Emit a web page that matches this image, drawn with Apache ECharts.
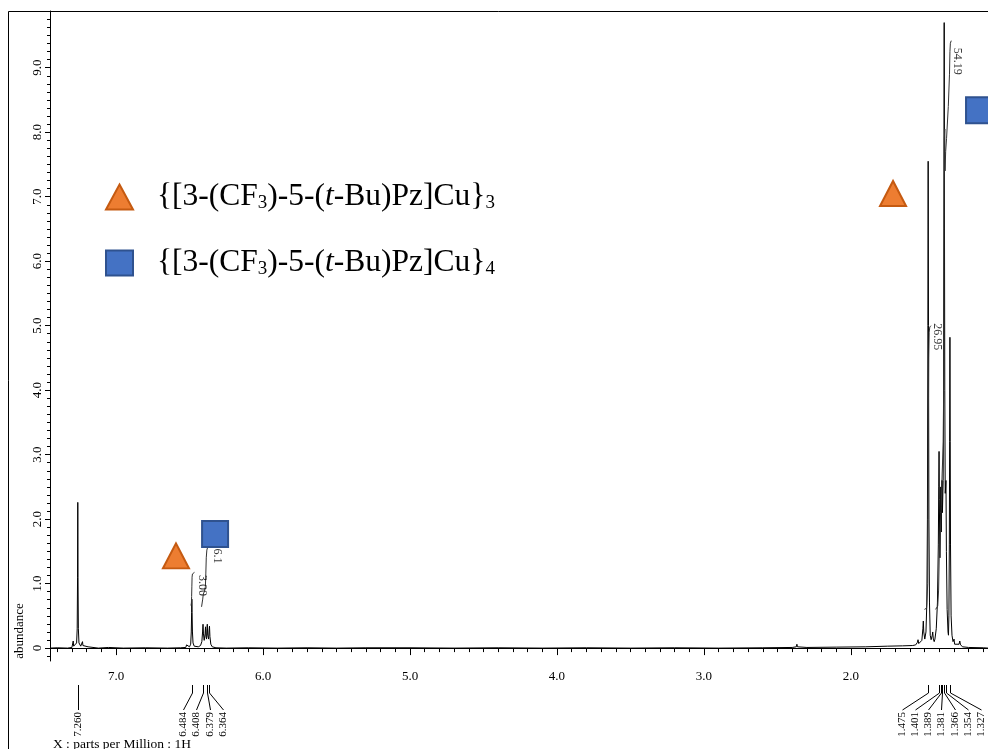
<!DOCTYPE html>
<html>
<head>
<meta charset="utf-8">
<script src="https://cdn.jsdelivr.net/npm/echarts@6/dist/echarts.min.js"></script>
<style>
  html, body { margin: 0; padding: 0; background: #fff; }
  #chart { width: 988px; height: 749px; }
</style>
</head>
<body>
<div id="chart"></div>
<script>
// 1H NMR spectrum, CDCl3: chemical shift (ppm) vs abundance

// ---- axis ticks ----
const xMajorTicks = [2, 3, 4, 5, 6, 7];
const yMajorTicks = [0, 1, 2, 3, 4, 5, 6, 7, 8, 9];

// ---- spectrum trace, [ppm, abundance] ----
const traceCHCl3 = [
  [7.449, 0.00], [7.400, 0.005], [7.330, 0.00], [7.300, 0.01], [7.294, 0.03],
  [7.291, 0.11], [7.288, 0.03], [7.276, 0.03], [7.268, 0.08], [7.264, 0.30],
  [7.2615, 1.10], [7.260, 2.26], [7.2585, 1.10], [7.256, 0.30], [7.252, 0.08],
  [7.240, 0.03], [7.231, 0.04], [7.228, 0.10], [7.225, 0.04], [7.212, 0.01],
  [7.190, 0.02], [7.186, 0.03], [7.180, 0.01], [7.120, 0.00], [7.050, 0.01],
  [7.048, 0.025], [7.045, 0.005], [6.950, 0.00], [6.800, 0.005], [6.650, 0.00]
];
const tracePyrazoleCH = [
  [6.560, 0.005], [6.525, 0.01], [6.520, 0.05], [6.516, 0.02], [6.500, 0.02],
  [6.492, 0.06], [6.488, 0.25], [6.4855, 0.55], [6.484, 0.76], [6.4825, 0.55],
  [6.480, 0.25], [6.476, 0.08], [6.468, 0.03], [6.440, 0.02], [6.425, 0.04],
  [6.416, 0.10], [6.411, 0.25], [6.408, 0.37], [6.405, 0.22], [6.400, 0.12],
  [6.394, 0.22], [6.391, 0.33], [6.388, 0.18], [6.384, 0.14], [6.381, 0.30],
  [6.379, 0.37], [6.376, 0.20], [6.370, 0.14], [6.366, 0.30], [6.364, 0.34],
  [6.361, 0.18], [6.355, 0.06], [6.345, 0.02], [6.320, 0.005], [6.250, 0.00]
];
const traceBaseline = [
  [6.100, 0.005], [5.900, 0.00], [5.700, 0.005], [5.500, 0.00], [5.300, 0.005],
  [5.298, 0.02], [5.295, 0.00], [5.000, 0.005], [4.700, 0.00], [4.400, 0.005],
  [4.100, 0.00], [3.800, 0.005], [3.500, 0.00], [3.200, 0.005], [2.900, 0.00],
  [2.600, 0.005], [2.400, 0.01], [2.372, 0.02], [2.368, 0.06], [2.364, 0.02],
  [2.300, 0.01], [2.100, 0.015], [1.900, 0.02], [1.750, 0.03], [1.650, 0.035]
];
const traceTBu = [
  [1.580, 0.04], [1.560, 0.05], [1.548, 0.09], [1.544, 0.13], [1.539, 0.07],
  [1.530, 0.06], [1.518, 0.12], [1.511, 0.30], [1.508, 0.42], [1.505, 0.25],
  [1.498, 0.14], [1.490, 0.25], [1.484, 0.70], [1.480, 2.00], [1.477, 5.00],
  [1.475, 7.55], [1.473, 5.00], [1.470, 2.00], [1.466, 0.70], [1.461, 0.20],
  [1.455, 0.13], [1.447, 0.20], [1.444, 0.25], [1.440, 0.14], [1.434, 0.10],
  [1.429, 0.14], [1.420, 0.30], [1.412, 0.70], [1.406, 1.60], [1.403, 2.50],
  [1.401, 3.05], [1.399, 2.30], [1.395, 1.40], [1.391, 2.10], [1.389, 2.50],
  [1.386, 1.80], [1.383, 2.30], [1.381, 2.60], [1.378, 2.10], [1.373, 2.60],
  [1.370, 4.00], [1.368, 6.50], [1.366, 9.70], [1.364, 6.50], [1.362, 4.00],
  [1.359, 2.40], [1.356, 2.50], [1.354, 2.60], [1.351, 1.50], [1.346, 0.60],
  [1.340, 0.25], [1.337, 0.20], [1.334, 0.50], [1.331, 1.60], [1.329, 3.20],
  [1.327, 4.82], [1.325, 3.20], [1.323, 1.60], [1.319, 0.50], [1.313, 0.20],
  [1.306, 0.10], [1.302, 0.12], [1.299, 0.14], [1.295, 0.06], [1.286, 0.04],
  [1.265, 0.06], [1.260, 0.11], [1.255, 0.05], [1.240, 0.02], [1.200, 0.01],
  [1.100, 0.005], [1.068, 0.00]
];

// ---- integral traces ----
const integral300 = [
  [6.490, 0.66], [6.487, 0.70], [6.4855, 0.80], [6.484, 0.95], [6.4825, 1.10],
  [6.480, 1.15], [6.475, 1.17], [6.466, 1.175]
];
const integral61 = [
  [6.418, 0.64], [6.413, 0.66], [6.410, 0.76], [6.406, 0.84], [6.398, 0.88],
  [6.392, 0.95], [6.389, 1.15], [6.386, 1.40], [6.382, 1.52], [6.377, 1.56],
  [6.368, 1.575], [6.358, 1.58]
];
const integral2695 = [
  [1.500, 0.60], [1.486, 0.62], [1.478, 1.00], [1.476, 2.20], [1.474, 3.40],
  [1.471, 4.50], [1.468, 4.90], [1.464, 4.98], [1.456, 5.00]
];
const integral5419 = [
  [1.425, 0.60], [1.410, 0.65], [1.404, 0.90], [1.400, 1.40], [1.392, 1.80],
  [1.386, 2.20], [1.380, 2.70], [1.372, 3.20], [1.369, 4.50], [1.367, 6.50],
  [1.365, 7.90], [1.362, 8.05], [1.360, 7.40], [1.356, 7.70], [1.350, 7.90],
  [1.338, 8.40], [1.330, 8.90], [1.327, 9.25], [1.324, 9.38], [1.318, 9.42]
];
const integralValues = [
  { name: '3.00', value: [6.414, 0.97] },
  { name: '6.1', value: [6.313, 1.43] },
  { name: '26.95', value: [1.417, 4.83] },
  { name: '54.19', value: [1.2755, 9.10] }
];

// ---- picked peaks (ppm), grouped by label fan ----
const peaksSolvent = [7.260];
const peaksPyrazole = [6.484, 6.408, 6.379, 6.364];
const peaksTBu = [1.475, 1.401, 1.389, 1.381, 1.366, 1.354, 1.327];

// ---- species markers ----
const trimerName = '{[3-(CF3)-5-(t-Bu)Pz]Cu}3';
const tetramerName = '{[3-(CF3)-5-(t-Bu)Pz]Cu}4';
const trimerMarks = [[6.592, 1.43], [1.714, 7.05]];
const tetramerMarks = [[6.326, 1.77], [1.129, 8.34]];

const SERIF = '"Liberation Serif", "Times New Roman", serif';
const ORANGE = '#ED7D31', ORANGE_EDGE = '#C55A11';
const BLUE = '#4472C4', BLUE_EDGE = '#2F528F';

// shift axis window (ppm), high field end sits at the right edge
const X_LOW = 1.068, X_HIGH = 7.449;

// minor ticks: tenths on the shift axis, eighths on the abundance axis
const xMinorTicks = [];
for (let v = 1; v < 8; v++) {
  for (let k = 1; k < 10; k++) {
    const t = +(v + k / 10).toFixed(2);
    if (t > X_LOW && t < X_HIGH) xMinorTicks.push(t);
  }
}
const yMinorTicks = [-0.125];
for (let i = 0; i < yMajorTicks.length + 1; i++) {
  for (let k = 1; k < 8; k++) yMinorTicks.push(+(i + k / 8).toFixed(3));
}

const spectrum = [].concat(traceCHCl3, tracePyrazoleCH, traceBaseline, traceTBu);

function peakGroup(list) {
  const center = list.reduce((a, b) => a + b, 0) / list.length;
  return list.map((p, i) => [p, i, list.length, center]);
}
const peakPicks = [].concat(peakGroup(peaksSolvent), peakGroup(peaksPyrazole), peakGroup(peaksTBu));

function legendText(name) {
  // subscripts for the CF3 group and aggregation number, italic t of t-Bu
  const agg = name.slice(-1);
  return '{[3-(CF{s|3}{b|)-5-(}{i|t}{b|-Bu)Pz]Cu}}{s|' + agg + '}';
}

const LABEL_PITCH = 13.2;

const chart = echarts.init(document.getElementById('chart'), null, { renderer: 'canvas' });

const axisX = (extra) => Object.assign({
  type: 'value', inverse: true, min: X_LOW, max: X_HIGH, gridIndex: 0, position: 'bottom',
  splitLine: { show: false }
}, extra);
const axisY = (extra) => Object.assign({
  type: 'value', min: -0.2, max: 9.88, gridIndex: 0, position: 'left',
  splitLine: { show: false }
}, extra);

chart.setOption({
  animation: false,
  backgroundColor: '#fff',
  textStyle: { fontFamily: SERIF },
  grid: { left: 50, top: 11, right: 0, bottom: 88, containLabel: false, outerBoundsMode: 'none' },
  xAxis: [
    axisX({
      axisLine: { show: true, lineStyle: { color: '#000', width: 1 } },
      axisTick: { show: true, length: 7, customValues: xMajorTicks, lineStyle: { color: '#000' } },
      axisLabel: {
        show: true, customValues: xMajorTicks, margin: 9, color: '#000',
        fontFamily: SERIF, fontSize: 13, formatter: (v) => v.toFixed(1)
      }
    }),
    axisX({
      axisLine: { show: false },
      axisTick: { show: true, length: 4, customValues: xMinorTicks, lineStyle: { color: '#000' } },
      axisLabel: { show: false }
    })
  ],
  yAxis: [
    axisY({
      axisLine: { show: true, lineStyle: { color: '#000', width: 1 } },
      axisTick: { show: true, length: 5, customValues: yMajorTicks, lineStyle: { color: '#000' } },
      axisLabel: {
        show: true, customValues: yMajorTicks, rotate: 90, margin: 6, color: '#000',
        fontFamily: SERIF, fontSize: 13, formatter: (v) => (v === 0 ? '0' : v.toFixed(1))
      }
    }),
    axisY({
      axisLine: { show: false },
      axisTick: { show: true, length: 3, customValues: yMinorTicks, lineStyle: { color: '#000' } },
      axisLabel: { show: false }
    })
  ],
  legend: {
    orient: 'vertical', left: 105, top: 181, padding: 0,
    itemWidth: 27, itemHeight: 25, itemGap: 34, selectedMode: false,
    formatter: legendText,
    textStyle: {
      fontFamily: SERIF, fontSize: 31.5, color: '#000', lineHeight: 32,
      padding: [0, 0, 0, 19],
      rich: {
        b: { fontFamily: SERIF, fontSize: 31.5, color: '#000', verticalAlign: 'bottom', lineHeight: 32 },
        i: { fontFamily: SERIF, fontSize: 31.5, fontStyle: 'italic', color: '#000', verticalAlign: 'bottom', lineHeight: 32 },
        s: { fontFamily: SERIF, fontSize: 19, color: '#000', verticalAlign: 'bottom', lineHeight: 32 }
      }
    },
    data: [
      { name: trimerName, icon: 'triangle', itemStyle: { color: ORANGE, borderColor: ORANGE_EDGE, borderWidth: 2 } },
      { name: tetramerName, icon: 'rect', itemStyle: { color: BLUE, borderColor: BLUE_EDGE, borderWidth: 2 } }
    ]
  },
  graphic: [
    { type: 'rect', silent: true, shape: { x: 8.5, y: 11.5, width: 1000, height: 800 },
      style: { fill: null, stroke: '#000', lineWidth: 1 } },
    { type: 'text', silent: true, x: 20, y: 631, rotation: Math.PI / 2,
      style: { text: 'abundance', font: '13px ' + SERIF, fill: '#000', align: 'center', verticalAlign: 'middle' } },
    { type: 'text', silent: true, x: 53, y: 737,
      style: { text: 'X : parts per Million : 1H', font: '13.5px ' + SERIF, fill: '#000', align: 'left', verticalAlign: 'top' } }
  ],
  series: [
    {
      name: 'spectrum', type: 'line', data: spectrum, showSymbol: false, symbol: 'none',
      lineStyle: { color: '#000', width: 1 }, z: 3, silent: true
    },
    ...[integral300, integral61, integral2695, integral5419].map((d) => ({
      type: 'line', data: d, showSymbol: false, symbol: 'none',
      lineStyle: { color: '#333', width: 1 }, z: 3, silent: true
    })),
    {
      type: 'scatter', data: integralValues, symbolSize: 0, silent: true, z: 4,
      label: {
        show: true, position: 'inside', rotate: -90, formatter: '{b}',
        fontFamily: SERIF, fontSize: 12, color: '#000'
      }
    },
    {
      name: trimerName, type: 'scatter', data: trimerMarks, symbol: 'triangle',
      symbolSize: [26, 25], z: 6, silent: true,
      itemStyle: { color: ORANGE, borderColor: ORANGE_EDGE, borderWidth: 2, opacity: 1 }
    },
    {
      name: tetramerName, type: 'scatter', data: tetramerMarks, symbol: 'rect',
      symbolSize: [26, 26], z: 6, silent: true, clip: false,
      itemStyle: { color: BLUE, borderColor: BLUE_EDGE, borderWidth: 2, opacity: 1 }
    },
    {
      type: 'custom', data: peakPicks, silent: true, clip: false, z: 5,
      renderItem: (params, api) => {
        const ppm = api.value(0), slot = api.value(1), n = api.value(2), center = api.value(3);
        const x0 = Math.round(api.coord([ppm, 0])[0]) + 0.5;
        const xc = api.coord([center, 0])[0];
        const xs = Math.round(xc + (slot - (n - 1) / 2) * LABEL_PITCH) + 0.5;
        const base = params.coordSys.y + params.coordSys.height;
        return {
          type: 'group',
          children: [
            { type: 'polyline',
              shape: { points: [[x0, base + 24], [x0, base + 32], [xs, base + 49]] },
              style: { stroke: '#000', lineWidth: 1, fill: null } },
            { type: 'text', x: xs, y: base + 51, rotation: Math.PI / 2,
              style: { text: ppm.toFixed(3), align: 'right', verticalAlign: 'middle',
                       font: '11px ' + SERIF, fill: '#000' } }
          ]
        };
      }
    }
  ]
});
</script>
</body>
</html>
